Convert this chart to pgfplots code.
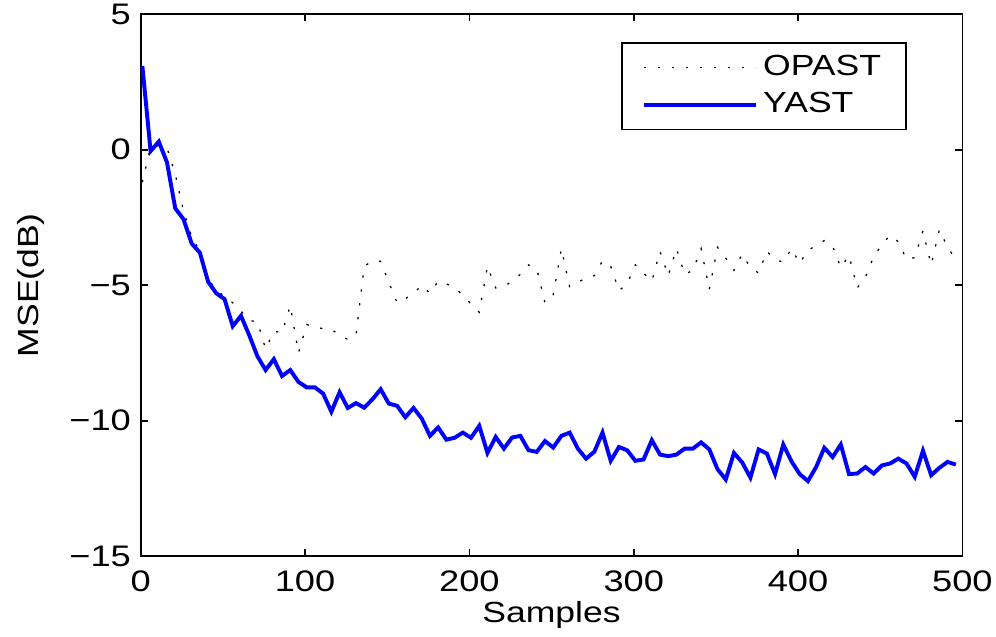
\documentclass[border=0pt]{standalone}
\usepackage{fontspec}
\setmainfont{Liberation Sans}[FakeStretch=1.22]
\usepackage{pgfplots}
\usepackage{pgfplotstable}
\pgfplotsset{compat=1.18}
\pgfplotstableread{
x opast yast
1 -1.20 3.09
6 0.10 -0.05
11 0.15 0.30
16 0.07 -0.47
21 -0.90 -2.16
26 -2.25 -2.56
31 -3.20 -3.46
36 -3.75 -3.80
41 -4.75 -4.87
46 -5.20 -5.30
51 -5.40 -5.51
56 -5.65 -6.51
61 -5.95 -6.13
66 -6.30 -6.84
71 -6.35 -7.62
76 -7.35 -8.13
81 -6.70 -7.73
86 -6.75 -8.35
91 -5.75 -8.13
96 -7.50 -8.57
101 -6.45 -8.77
106 -6.55 -8.77
111 -6.60 -9.00
116 -6.62 -9.67
121 -6.85 -8.95
126 -7.00 -9.53
131 -6.85 -9.35
136 -4.30 -9.52
141 -4.10 -9.21
146 -4.12 -8.84
151 -4.90 -9.37
156 -5.65 -9.45
161 -5.50 -9.87
166 -5.30 -9.53
171 -5.00 -9.92
176 -5.30 -10.56
181 -4.85 -10.25
186 -4.95 -10.70
191 -5.10 -10.63
196 -5.35 -10.44
201 -5.70 -10.63
206 -6.00 -10.19
211 -4.30 -11.19
216 -5.10 -10.60
221 -5.05 -11.03
226 -4.85 -10.62
231 -4.60 -10.56
236 -4.25 -11.09
241 -4.40 -11.15
246 -5.65 -10.75
251 -5.35 -10.99
256 -3.65 -10.56
261 -5.05 -10.44
266 -4.90 -11.03
271 -4.72 -11.40
276 -4.65 -11.15
281 -4.10 -10.44
286 -4.30 -11.48
291 -5.20 -10.97
296 -4.95 -11.09
301 -4.25 -11.48
306 -4.55 -11.43
311 -4.85 -10.72
316 -3.75 -11.25
321 -4.65 -11.31
326 -3.65 -11.25
331 -4.60 -11.03
336 -4.45 -11.03
341 -3.65 -10.80
346 -5.15 -11.06
351 -3.60 -11.79
356 -4.00 -12.17
361 -4.45 -11.19
366 -3.85 -11.54
371 -4.35 -12.10
376 -4.55 -11.06
381 -3.75 -11.21
386 -4.05 -11.97
391 -4.15 -10.88
396 -3.65 -11.50
401 -4.20 -11.97
406 -3.70 -12.23
411 -3.55 -11.71
416 -3.35 -11.00
421 -3.55 -11.34
426 -4.35 -10.88
431 -3.90 -11.97
436 -5.10 -11.95
441 -4.70 -11.71
446 -3.95 -11.95
451 -3.50 -11.65
456 -3.15 -11.58
461 -3.40 -11.40
466 -4.05 -11.58
471 -3.98 -12.07
476 -3.00 -11.11
481 -4.25 -12.01
486 -2.95 -11.74
491 -3.60 -11.52
496 -4.05 -11.62
}\datatable
\definecolor{mblue}{RGB}{0,0,255}
\begin{document}
\begin{tikzpicture}
\begin{axis}[
  scale only axis,
  width=293.4pt, height=193.5pt,
  xmin=0, xmax=500, ymin=-15, ymax=5,
  xtick={0,100,200,300,400,500},
  ytick={-15,-10,-5,0,5},
  yticklabels={−15,−10,−5,0,5},
  tick align=inside,
  major tick length=2.5pt,
  axis line style={line width=0.6pt},
  every tick/.style={line width=0.6pt, black},
  /pgf/number format/assume math mode=true,
  tick label style={font=\fontsize{10.6}{12}\selectfont},
  xticklabel style={yshift=-1.5pt},
  label style={font=\fontsize{10.4}{12}\selectfont},
  xlabel={Samples},
  ylabel={MSE(dB)},
  xlabel style={at={(axis description cs:0.5,-0.1085)}, anchor=center},
  ylabel style={at={(axis description cs:-0.133,0.5)}, anchor=center},
  legend style={at={(axis description cs:0.9327,0.949)}, anchor=north east,
    draw=black, line width=0.6pt, font=\fontsize{10.4}{12}\selectfont,
    inner xsep=7pt, inner ysep=2.5pt, row sep=0.5pt},
  legend cell align=left,
  legend image code/.code={\draw[#1] (0pt,0pt) -- (40pt,0pt);},
  clip=true,
]
\addplot[black, line width=0.45pt, dash pattern=on 0.8pt off 4.2pt] table[x=x, y=opast] {\datatable};
\addlegendentry{OPAST}
\addplot[mblue, line width=1.4pt] table[x=x, y=yast] {\datatable};
\addlegendentry{YAST}
\end{axis}
\pgfresetboundingbox
\path (current axis.south west) ++(-50.25pt,-28.6pt) coordinate (bl);
\path (current axis.north east) ++(12.0pt,5.1pt) coordinate (tr);
\path[use as bounding box] (bl) rectangle (tr);
\end{tikzpicture}
\end{document}
